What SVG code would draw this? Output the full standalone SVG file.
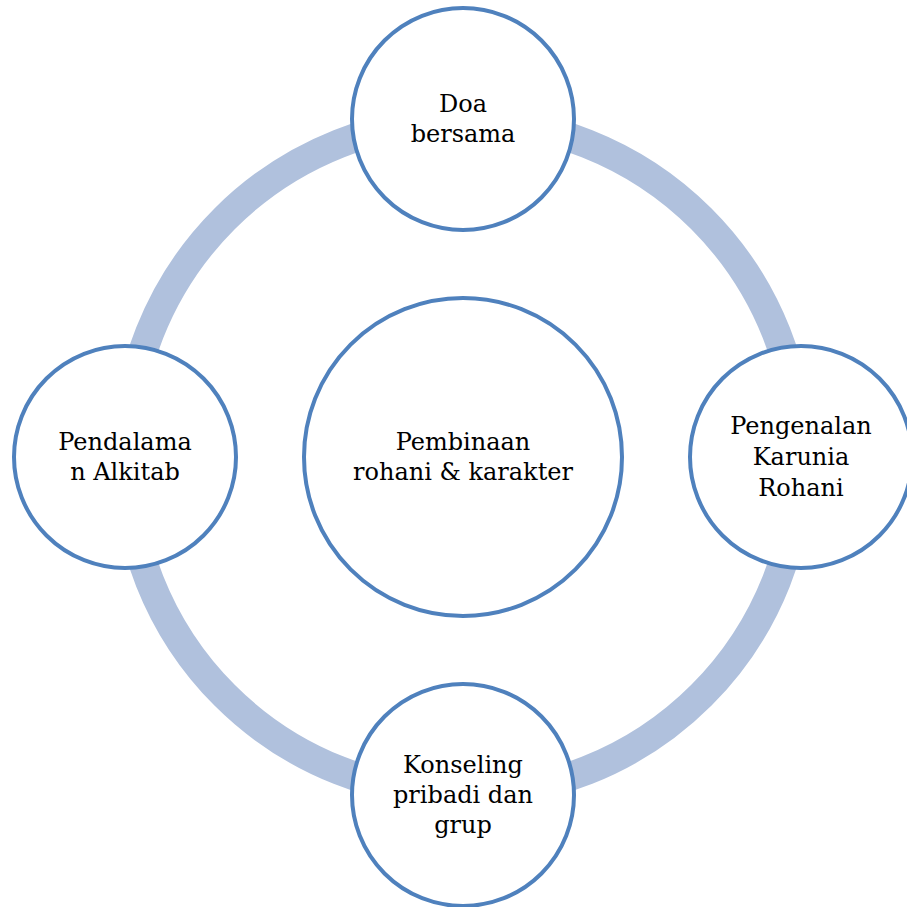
<svg xmlns="http://www.w3.org/2000/svg" width="907" height="907" viewBox="0 0 907 907">
  <style>
    .ring { fill: none; stroke: #B0C1DD; stroke-width: 29; }
    .node circle { fill: #FFFFFF; stroke: #4F81BD; stroke-width: 4; }
    .node text { font-family: "DejaVu Serif", "Liberation Serif", serif; font-size: 24px; fill: #000000; text-anchor: middle; }
  </style>
  <rect x="0" y="0" width="907" height="907" fill="#FFFFFF"/>

  <!-- cycle ring linking the outer steps -->
  <g id="connectors">
    <circle class="ring" cx="463" cy="457" r="337"/>
  </g>

  <g id="node-center" class="node">
    <circle cx="463" cy="457" r="159"/>
    <text x="463" y="450">Pembinaan</text>
    <text x="463" y="480">rohani &amp; karakter</text>
  </g>

  <g id="node-top" class="node">
    <circle cx="463" cy="119" r="111"/>
    <text x="463" y="112">Doa</text>
    <text x="463" y="142">bersama</text>
  </g>

  <g id="node-right" class="node">
    <circle cx="801" cy="457" r="111"/>
    <text x="801" y="434">Pengenalan</text>
    <text x="801" y="465">Karunia</text>
    <text x="801" y="496">Rohani</text>
  </g>

  <g id="node-bottom" class="node">
    <circle cx="463" cy="795" r="111"/>
    <text x="463" y="773">Konseling</text>
    <text x="463" y="803">pribadi dan</text>
    <text x="463" y="833">grup</text>
  </g>

  <g id="node-left" class="node">
    <circle cx="125" cy="457" r="111"/>
    <text x="125" y="450">Pendalama</text>
    <text x="125" y="480">n Alkitab</text>
  </g>
</svg>
